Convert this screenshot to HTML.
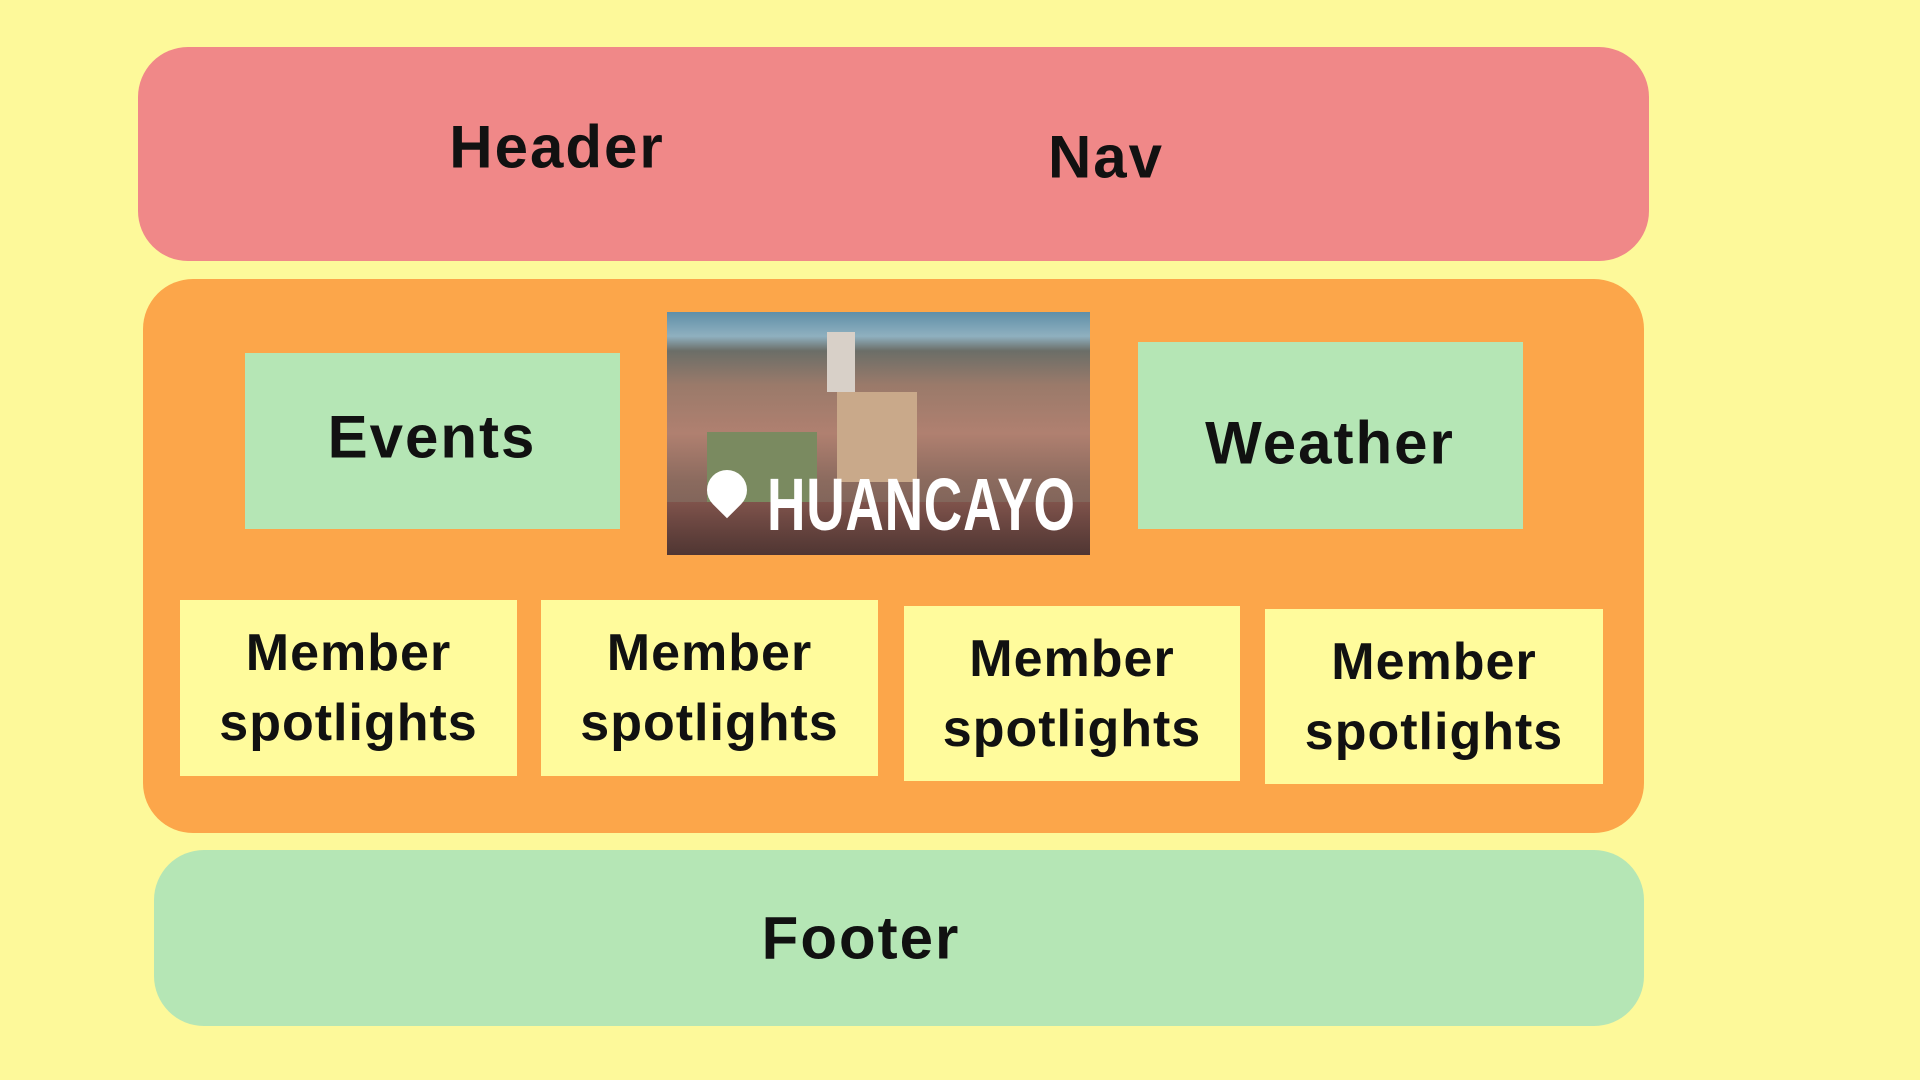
<!DOCTYPE html>
<html><head><meta charset="utf-8"><style>
html,body{margin:0;padding:0}
body{width:1920px;height:1080px;background:#fdf99a;position:relative;overflow:hidden;font-family:"Liberation Sans",sans-serif;font-weight:bold;color:#111}
.b{position:absolute;box-sizing:border-box}
.t{position:absolute;transform:translate(-50%,-50%);white-space:nowrap;letter-spacing:2px}
.m{display:flex;align-items:center;justify-content:center;text-align:center;font-size:52px;line-height:70px;background:#fffb9c;letter-spacing:1px}
</style></head><body>
<div class="b" style="left:138px;top:47px;width:1511px;height:214px;background:#f08888;border-radius:50px"></div>
<div class="t" style="left:557px;top:147px;font-size:60px">Header</div>
<div class="t" style="left:1106px;top:157px;font-size:60px">Nav</div>

<div class="b" style="left:143px;top:279px;width:1501px;height:554px;background:#fca64a;border-radius:50px"></div>
<div class="b" style="left:245px;top:353px;width:375px;height:176px;background:#b5e6b5"></div>
<div class="t" style="left:432px;top:437px;font-size:60px">Events</div>
<div class="b" style="left:1138px;top:342px;width:385px;height:187px;background:#b5e6b5"></div>
<div class="t" style="left:1330px;top:443px;font-size:60px">Weather</div>

<div class="b" style="left:667px;top:312px;width:423px;height:243px;overflow:hidden;background:linear-gradient(180deg,#5f8fa8 0%,#8fb0bf 10%,#6b6e68 16%,#9a7a6a 30%,#b08070 50%,#8a6a5e 70%,#6e5a52 100%)">
<div style="position:absolute;left:170px;top:80px;width:80px;height:90px;background:#c9a98a"></div>
<div style="position:absolute;left:40px;top:120px;width:110px;height:70px;background:#7a8a60"></div>
<div style="position:absolute;left:160px;top:20px;width:28px;height:60px;background:#d8d0c8"></div>
<div style="position:absolute;left:0;top:190px;width:100%;height:53px;background:linear-gradient(180deg,rgba(120,40,40,.3),rgba(60,30,30,.6))"></div>
<div style="position:absolute;left:40px;top:158px;width:40px;height:40px;border-radius:50% 50% 50% 0;transform:rotate(-45deg);background:#fff"></div>
<div style="position:absolute;left:100px;top:150px;font-size:74px;color:#fff;transform:scaleX(.72);transform-origin:left top;letter-spacing:1px">HUANCAYO</div>
</div>

<div class="b m" style="left:180px;top:600px;width:337px;height:176px">Member<br>spotlights</div>
<div class="b m" style="left:541px;top:600px;width:337px;height:176px">Member<br>spotlights</div>
<div class="b m" style="left:904px;top:606px;width:336px;height:175px">Member<br>spotlights</div>
<div class="b m" style="left:1265px;top:609px;width:338px;height:175px">Member<br>spotlights</div>

<div class="b" style="left:154px;top:850px;width:1490px;height:176px;background:#b5e6b5;border-radius:50px"></div>
<div class="t" style="left:861px;top:938px;font-size:60px">Footer</div>
</body></html>
